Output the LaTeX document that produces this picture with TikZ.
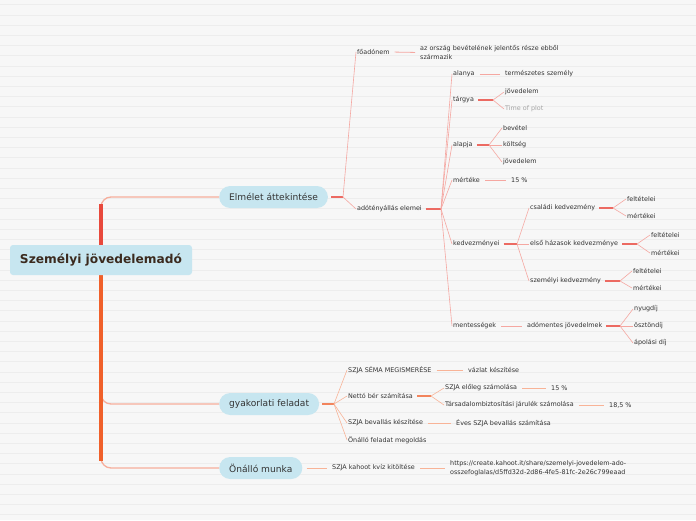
\documentclass[tikz,border=0pt]{standalone}
\usepackage{fontspec}
\setmainfont{DejaVu Sans}
\usetikzlibrary{positioning,calc}
\definecolor{bgcol}{HTML}{F7F7F7}
\definecolor{stripe}{HTML}{EDEDED}
\definecolor{pill}{HTML}{C7E6F0}
\definecolor{roottext}{HTML}{3B2A1E}
\definecolor{txt}{HTML}{333333}
\definecolor{redline}{HTML}{E8493C}
\definecolor{orangeline}{HTML}{F0602A}
\definecolor{branchline}{HTML}{F6AE9C}
\definecolor{pinkfan}{HTML}{F5A7A1}
\definecolor{pinkstem}{HTML}{EC6A62}
\definecolor{peachfan}{HTML}{F8B397}
\definecolor{peachstem}{HTML}{F2845C}

\begin{document}
\begin{tikzpicture}[x=1pt,y=-1pt,
  leaf/.style={anchor=west,inner sep=1pt,text=txt,font=\fontsize{6.4}{8.8}\selectfont,align=left},
  topic/.style={anchor=west,fill=pill,rounded corners=11pt,minimum height=22pt,inner xsep=10pt,text=txt,font=\fontsize{9.1}{10}\selectfont},
  fan/.style={draw=#1,line width=0.6pt},
  stem/.style={draw=#1,line width=1.1pt,shorten <=3pt},
  solo/.style={draw=#1,line width=0.8pt,shorten <=4pt,shorten >=4pt}
]
  % background with faint stripes
  \useasboundingbox (0,0) rectangle (696,520);
  \fill[bgcol] (0,0) rectangle (696,520);
  \foreach \k in {0,...,50}
    \draw[stripe,line width=0.8pt] (0,4.8+10.2*\k) -- (696,4.8+10.2*\k);

  % main topics
  \node[topic] (elmelet) at (219,197) {Elmélet áttekintése};
  \node[topic] (gyak) at (219,404) {gyakorlati feladat};
  \node[topic] (onallo) at (219,468) {Önálló munka};

  % trunk
  \draw[branchline,line width=1.3pt,rounded corners=10pt] (elmelet.west) -| (101,330) |- (onallo.west);
  \draw[branchline,line width=1.3pt,rounded corners=10pt] (101,380) |- (gyak.west);
  \draw[redline,line width=3.6pt] (101,204) -- (101,262);
  \draw[orangeline,line width=3.6pt] (101,258) -- (101,461);
  \node[fill=pill,rounded corners=3pt,minimum width=182pt,minimum height=30pt,text=roottext,
    font=\bfseries\fontsize{12.2}{14}\selectfont] (root) at (101,260) {Személyi jövedelemadó};

  % Elmélet áttekintése
  \coordinate (elmelet-j) at (343,197);
  \node[leaf] (foado) at (356,52) {főadónem};
  \node[leaf] (bevresz) at (419,52.5) {az ország bevételének jelentős része ebből\\származik};
  \node[leaf] (adoteny) at (356,209) {adótényállás elemei};
  \draw[stem=pinkstem] (elmelet.east) -- (elmelet-j);
  \draw[fan=pinkfan] (elmelet-j) -- (foado.west);
  \draw[fan=pinkfan] (elmelet-j) -- (adoteny.west);
  \draw[solo=pinkfan] (foado.east) -- (bevresz.west);

  % adótényállás elemei
  \coordinate (adoteny-j) at (441,209);
  \node[leaf] (alanya) at (452,74) {alanya};
  \node[leaf] (szemely) at (504,74) {természetes személy};
  \node[leaf] (targya) at (452,100) {tárgya};
  \node[leaf] (alapja) at (452,145) {alapja};
  \node[leaf] (merteke) at (452,180) {mértéke};
  \node[leaf] (szazalek) at (510,180) {15 \%};
  \node[leaf] (kedv) at (452,244) {kedvezményei};
  \node[leaf] (mentes) at (452,326) {mentességek};
  \draw[stem=pinkstem] (adoteny.east) -- (adoteny-j);
  \foreach \n in {alanya,targya,alapja,merteke,kedv,mentes}
    \draw[fan=pinkfan] (adoteny-j) -- (\n.west);
  \draw[solo=pinkfan] (alanya.east) -- (szemely.west);
  \draw[solo=pinkfan] (merteke.east) -- (szazalek.west);

  % tárgya
  \coordinate (targya-j) at (493,100);
  \node[leaf] (targyjov) at (504,92) {jövedelem};
  \node[leaf,text=black!35] (plot) at (504,109) {Time of plot};
  \draw[stem=pinkstem] (targya.east) -- (targya-j);
  \draw[fan=pinkfan] (targya-j) -- (targyjov.west);
  \draw[fan=pinkfan] (targya-j) -- (plot.west);

  % alapja
  \coordinate (alapja-j) at (489,145);
  \node[leaf] (bevet) at (502,128) {bevétel};
  \node[leaf] (koltseg) at (502,145) {költség};
  \node[leaf] (alapjov) at (502,162) {jövedelem};
  \draw[stem=pinkstem] (alapja.east) -- (alapja-j);
  \foreach \n in {bevet,koltseg,alapjov}
    \draw[fan=pinkfan] (alapja-j) -- (\n.west);

  % kedvezményei
  \coordinate (kedv-j) at (517,244);
  \node[leaf] (csaladi) at (529,208) {családi kedvezmény};
  \node[leaf] (hazas) at (529,244) {első házasok kedvezménye};
  \node[leaf] (szemelyi) at (529,281) {személyi kedvezmény};
  \draw[stem=pinkstem] (kedv.east) -- (kedv-j);
  \foreach \n in {csaladi,hazas,szemelyi}
    \draw[fan=pinkfan] (kedv-j) -- (\n.west);

  \coordinate (csaladi-j) at (613,208);
  \node[leaf] (csaladif) at (626,199) {feltételei};
  \node[leaf] (csaladim) at (626,216) {mértékei};
  \coordinate (hazas-j) at (637,244);
  \node[leaf] (hazasf) at (650,235) {feltételei};
  \node[leaf] (hazasm) at (650,253) {mértékei};
  \coordinate (szemelyi-j) at (620,281);
  \node[leaf] (szemelyif) at (632,271) {feltételei};
  \node[leaf] (szemelyim) at (632,288) {mértékei};
  \foreach \n in {csaladi,hazas,szemelyi} {
    \draw[stem=pinkstem] (\n.east) -- (\n-j);
    \draw[fan=pinkfan] (\n-j) -- (\n f.west);
    \draw[fan=pinkfan] (\n-j) -- (\n m.west);
  }

  % mentességek
  \node[leaf] (adomentes) at (526,326) {adómentes jövedelmek};
  \coordinate (adomentes-j) at (620,326);
  \node[leaf] (nyugdij) at (633,309) {nyugdíj};
  \node[leaf] (osztondij) at (633,326) {ösztöndíj};
  \node[leaf] (apolasi) at (633,343) {ápolási díj};
  \draw[solo=pinkfan] (mentes.east) -- (adomentes.west);
  \draw[stem=pinkstem] (adomentes.east) -- (adomentes-j);
  \foreach \n in {nyugdij,osztondij,apolasi}
    \draw[fan=pinkfan] (adomentes-j) -- (\n.west);

  % gyakorlati feladat
  \coordinate (gyak-j) at (334,404);
  \node[leaf] (sema) at (347,370) {SZJA SÉMA MEGISMERÉSE};
  \node[leaf] (vazlat) at (467,370) {vázlat készítése};
  \node[leaf] (netto) at (347,396) {Nettó bér számítása};
  \node[leaf] (bevallas) at (347,423) {SZJA bevallás készítése};
  \node[leaf] (eves) at (455,423) {Éves SZJA bevallás számítása};
  \node[leaf] (onallof) at (347,440) {Önálló feladat megoldás};
  \draw[stem=peachstem] (gyak.east) -- (gyak-j);
  \foreach \n in {sema,netto,bevallas,onallof}
    \draw[fan=peachfan] (gyak-j) -- (\n.west);
  \draw[solo=peachfan] (sema.east) -- (vazlat.west);
  \draw[solo=peachfan] (bevallas.east) -- (eves.west);

  \coordinate (netto-j) at (431,396);
  \node[leaf] (eloleg) at (444,388) {SZJA előleg számolása};
  \node[leaf] (elolegsz) at (550,388) {15 \%};
  \node[leaf] (tbj) at (444,405) {Társadalombiztosítási járulék számolása};
  \node[leaf] (tbjsz) at (608,405) {18,5 \%};
  \draw[stem=peachstem] (netto.east) -- (netto-j);
  \draw[fan=peachfan] (netto-j) -- (eloleg.west);
  \draw[fan=peachfan] (netto-j) -- (tbj.west);
  \draw[solo=peachfan] (eloleg.east) -- (elolegsz.west);
  \draw[solo=peachfan] (tbj.east) -- (tbjsz.west);

  % Önálló munka
  \node[leaf] (kahoot) at (331,468) {SZJA kahoot kvíz kitöltése};
  \node[leaf] (url) at (449,468) {https://create.kahoot.it/share/szemelyi-jovedelem-ado-\\osszefoglalas/d5ffd32d-2d86-4fe5-81fc-2e26c799eaad};
  \draw[solo=peachfan] (onallo.east) -- (kahoot.west);
  \draw[solo=peachfan] (kahoot.east) -- (url.west);
\end{tikzpicture}
\end{document}
